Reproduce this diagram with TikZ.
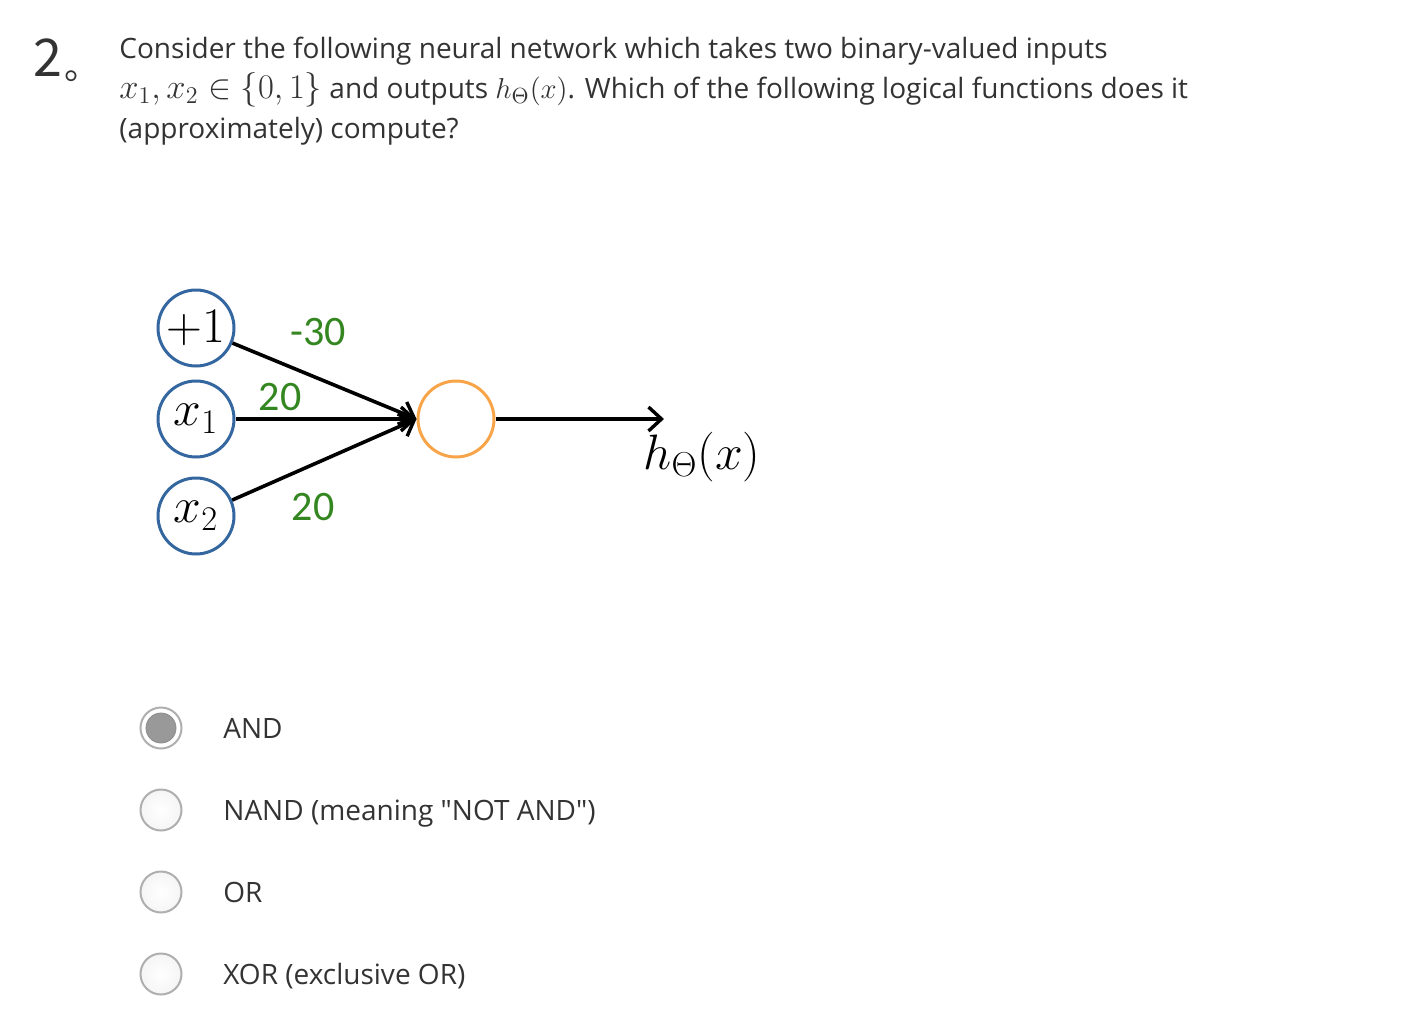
\documentclass[tikz,border=0pt]{standalone}
\usepackage[no-math]{fontspec}
\setmainfont{Open Sans}
\newfontfamily\osq{Open Sans}[Ligatures=TeXOff]
\newfontfamily\wfont{Carlito}
\newfontfamily\cjk{Noto Sans CJK SC}
\usetikzlibrary{arrows.meta}
\definecolor{nblue}{RGB}{52,102,160}
\definecolor{norange}{RGB}{247,165,72}
\definecolor{wgreen}{RGB}{52,135,32}
\definecolor{txt}{RGB}{51,51,51}
\definecolor{rborder}{RGB}{175,175,175}
\definecolor{rfill}{RGB}{153,153,153}
\newcommand{\qmath}[2]{{\fontsize{#1}{#1}\selectfont$#2$}}
\tikzset{
  inode/.style={circle,draw=nblue,line width=1.5pt,minimum size=38pt,inner sep=0pt,font=\fontsize{23}{23}\selectfont},
  hnode/.style={circle,draw=norange,line width=1.5pt,minimum size=38pt,inner sep=0pt},
  wlabel/.style={text=wgreen,font=\wfont\fontsize{21}{21}\selectfont,inner sep=0pt},
  conn/.style={line width=1.8pt,-{Straight Barb[length=6.5pt,width=12pt,line width=1.7pt]}},
  qtext/.style={anchor=base west,inner sep=0pt,text=txt,font=\fontsize{14}{14}\selectfont},
  radio/.style={circle,draw=rborder,line width=1pt,minimum size=20.5pt,inner sep=0pt,inner color=white,outer color=black!4},
  radiosel/.style={circle,draw=rborder,line width=1pt,minimum size=20.5pt,inner sep=0pt,fill=white},
  radiodot/.style={circle,fill=rfill,draw=black!45,line width=0.4pt,minimum size=15pt,inner sep=0pt}
}
\begin{document}
\begin{tikzpicture}[x=0.5pt,y=-0.5pt]
\useasboundingbox[fill=white] (0,0) rectangle (1414,1028);
% question
\node[anchor=base west,inner sep=0pt,text=txt,font=\cjk\fontsize{26}{26}\selectfont] (num) at (33,76) {2};
\node[anchor=base west,inner sep=0pt,text=txt,font=\cjk\fontsize{18}{18}\selectfont] (dot) at (64,79) {。};
\node[qtext] (l1) at (119,58) {Consider the following neural network which takes two binary-valued inputs};
\node[qtext] (l2) at (119,98) {\qmath{16.5}{x_1, x_2 \in \{0,1\}} and outputs \qmath{15.5}{h_\Theta(x)}. Which of the following logical functions does it};
\node[qtext] (l3) at (119,138) {(approximately) compute?};
% network
\node[inode] (p1) at (196,328) {$+1$};
\node[inode] (x1) at (196,419) {$x_1$};
\node[inode] (x2) at (196,516) {$x_2$};
\node[hnode] (hid) at (456,419) {};
\coordinate (outend) at (664,419);
\draw[conn] (p1) -- (hid.west);
\draw[conn] (x1) -- (hid.west);
\draw[conn] (x2) -- (hid.west);
\draw[conn] (hid) -- (outend);
\node[inner sep=0pt,font=\fontsize{26}{26}\selectfont] (hlab) at (702,457) {$h_\Theta(x)$};
\node[wlabel] (w0) at (318,332) {-30};
\node[wlabel] (w1) at (280,397) {20};
\node[wlabel] (w2) at (313,507) {20};
% options
\node[radiosel] (r1) at (161,728) {};
\node[radiodot] (r1d) at (161,728) {};
\node[radio] (r2) at (161,810) {};
\node[radio] (r3) at (161,892) {};
\node[radio] (r4) at (161,974) {};
\node[qtext] (o1) at (223,738) {AND};
\node[qtext] (o2) at (223,820) {NAND (meaning {\osq"}NOT AND{\osq"})};
\node[qtext] (o3) at (223,902) {OR};
\node[qtext] (o4) at (223,984) {XOR (exclusive OR)};
\end{tikzpicture}
\end{document}
